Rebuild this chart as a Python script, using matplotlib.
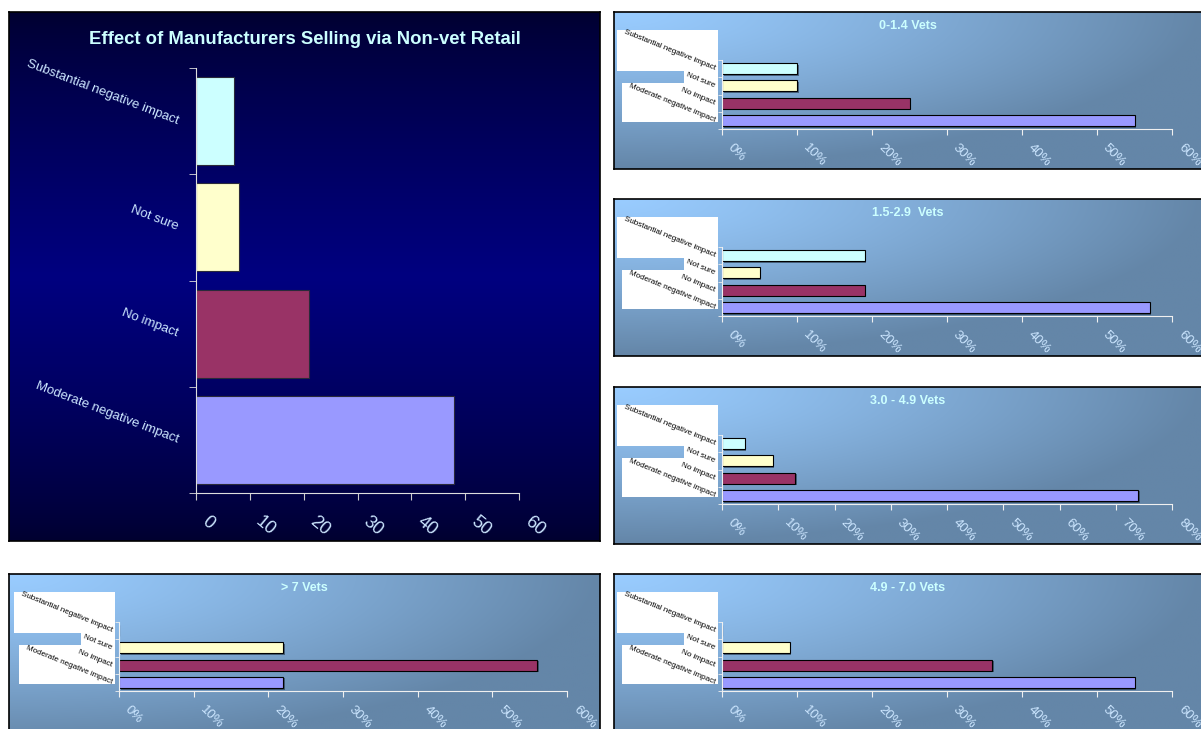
import numpy as np
import matplotlib
matplotlib.use('Agg')
import matplotlib.pyplot as plt
import matplotlib.patheffects as pe
from matplotlib.patches import Polygon
from matplotlib.transforms import offset_copy

plt.rcParams['font.family'] = ['Liberation Sans', 'DejaVu Sans']

W, H = 1201, 729

# survey answers, bottom bar first
categories = ['Moderate negative impact', 'No impact', 'Not sure',
              'Substantial negative impact']
bar_colors = ['#9999ff', '#993366', '#ffffcc', '#ccffff']

# all respondents (percent)
overall = [48, 21, 8, 7]

# by practice size
group_titles = ['0-1.4 Vets', '1.5-2.9  Vets', '3.0 - 4.9 Vets', '> 7 Vets', '4.9 - 7.0 Vets']
vets_0_1 = [55, 25, 10, 10]
vets_1_2 = [57, 19, 5, 19]
vets_3_4 = [74, 13, 9, 4]
vets_7_up = [22, 56, 22, 0]
vets_4_7 = [55, 36, 9, 0]
group_values = [vets_0_1, vets_1_2, vets_3_4, vets_7_up, vets_4_7]
group_xmax = [60, 60, 80, 60, 60]


def fig_rect(x0, y0, x1, y1):
    return [x0 / W, 1 - y1 / H, (x1 - x0) / W, (y1 - y0) / H]


def background(fig, box, rgb):
    x0, y0, x1, y1 = box
    bg = fig.add_axes(fig_rect(*box), zorder=0)
    bg.imshow(rgb, extent=(x0, x1, y1, y0), aspect='auto', interpolation='bilinear')
    bg.set_xlim(x0, x1)
    bg.set_ylim(y1, y0)
    bg.set_xticks([])
    bg.set_yticks([])
    for s in bg.spines.values():
        s.set_color('black')
        s.set_linewidth(1.2)
    return bg


def blend(c0, c1, t):
    c0 = np.array(c0, float) / 255
    c1 = np.array(c1, float) / 255
    return c0 + (c1 - c0) * t[..., None]


fig = plt.figure(figsize=(W / 100, H / 100), dpi=100)

# ---- big navy chart ----
yy = np.linspace(0, 1, 200)[:, None] * np.ones((1, 50))
t = 1 - np.abs(2 * yy - 1)
navy = blend((0, 0, 48), (0, 0, 128), t ** 0.8)
background(fig, (9, 12, 600, 541), navy)

ax = fig.add_axes(fig_rect(196, 68, 519, 493), zorder=1)
ax.patch.set_visible(False)
ypos = np.arange(len(categories))
ax.barh(ypos, overall, height=0.83, color=bar_colors, edgecolor='#2a2a3a', linewidth=0.8)
ax.set_xlim(0, 60)
ax.set_ylim(-0.5, 3.5)
for s in ['top', 'right']:
    ax.spines[s].set_visible(False)
for s in ['left', 'bottom']:
    ax.spines[s].set_color('#dddddd')
ax.set_yticks(ypos)
ax.set_yticklabels(categories, rotation=-21, ha='right', va='center',
                   rotation_mode='anchor', color='#cce6ff', fontsize=9.5)
ax.set_yticks(np.arange(-0.5, 4, 1), minor=True)
ax.tick_params(axis='y', which='major', length=0, pad=13)
ax.tick_params(axis='y', which='minor', length=5, colors='#dddddd', direction='out')
ax.set_xticks(range(0, 61, 10))
ax.set_xticklabels([])
ax.tick_params(axis='x', length=5, colors='#cccccc', direction='out')
tr = offset_copy(ax.get_xaxis_transform(), fig=fig, x=8, y=-27, units='dots')
for v in range(0, 61, 10):
    ax.text(v, 0, str(v), transform=tr, rotation=-40, rotation_mode='anchor',
            ha='left', va='center', fontsize=13, color='#cce6ff')
fig.text(305 / W, 1 - 40 / H, 'Effect of Manufacturers Selling via Non-vet Retail',
         ha='center', va='center', fontsize=13.3, fontweight='bold', color='#ccffff')

# ---- small blue charts ----
gx = np.linspace(0, 1, 300)[None, :]
gy = np.linspace(0, 1, 80)[:, None]
t = np.clip(np.sqrt(gx ** 2 + gy ** 2), 0, 1) ** 1.2
steel = blend((153, 204, 255), (100, 134, 168), t)

# panel box, axis left / right pixel
panels = [
    ((614, 12, 1203, 169), 722, 1172),
    ((614, 199, 1203, 356), 722, 1172),
    ((614, 387, 1203, 544), 722, 1172),
    ((9, 574, 600, 745), 119, 567),
    ((614, 574, 1203, 745), 722, 1172),
]

shadow = [pe.SimplePatchShadow(offset=(1.2, -1.2), shadow_rgbFace='#223344', alpha=0.6),
          pe.Normal()]

for (box, ax0, ax1), title, vals, xmax in zip(panels, group_titles, group_values, group_xmax):
    x0, pt, x1, _ = box
    bg = background(fig, box, steel)
    # white label area behind the category names
    pts = [(ax0 - 105, pt + 18), (ax0 - 4, pt + 18), (ax0 - 4, pt + 110),
           (ax0 - 100, pt + 110), (ax0 - 100, pt + 71), (ax0 - 38, pt + 71),
           (ax0 - 38, pt + 59), (ax0 - 105, pt + 59)]
    bg.add_patch(Polygon(pts, closed=True, facecolor='white', edgecolor='none'))
    bg.text((x0 + min(x1, 1201)) / 2, pt + 14, title, ha='center', va='center',
            fontsize=9, fontweight='bold', color='#ccffff')

    a = fig.add_axes(fig_rect(ax0, pt + 48, ax1, pt + 117), zorder=1)
    a.patch.set_visible(False)
    bars = a.barh(ypos, vals, height=0.65, color=bar_colors, edgecolor='black', linewidth=0.8)
    for b in bars:
        b.set_path_effects(shadow)
    a.set_xlim(0, xmax)
    a.set_ylim(-0.5, 3.5)
    for s in ['top', 'right']:
        a.spines[s].set_visible(False)
    for s in ['left', 'bottom']:
        a.spines[s].set_color('#f0f0f0')
    a.set_yticks(ypos)
    a.set_yticklabels(categories, rotation=-22, ha='right', va='center',
                      rotation_mode='anchor', color='black', fontsize=5.8)
    a.set_yticks(np.arange(-0.5, 4, 1), minor=True)
    a.tick_params(axis='y', which='major', length=0, pad=5)
    a.tick_params(axis='y', which='minor', length=3, colors='#f0f0f0', direction='out')
    a.set_xticks(range(0, xmax + 1, 10))
    a.set_xticklabels([])
    a.tick_params(axis='x', length=4, colors='#f0f0f0', direction='out')
    tr = offset_copy(a.get_xaxis_transform(), fig=fig, x=8, y=-17, units='dots')
    for v in range(0, xmax + 1, 10):
        a.text(v, 0, f'{v}%', transform=tr, rotation=-45, rotation_mode='anchor',
               ha='left', va='center', fontsize=9.5, color='#cce6ff')

fig.savefig('out.png', dpi=100, facecolor='white')
